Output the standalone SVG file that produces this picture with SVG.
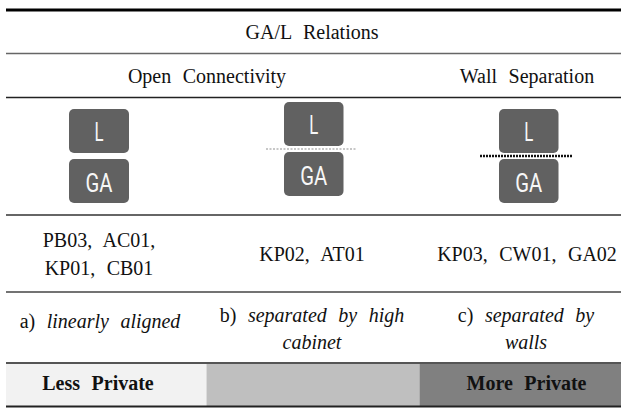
<svg xmlns="http://www.w3.org/2000/svg" width="621" height="408" viewBox="0 0 621 408">
<style>
.t{font-family:"Liberation Serif","Times New Roman",serif;font-size:20px;fill:#111;text-anchor:middle;word-spacing:6.5px}
.i{font-style:italic}
.b{font-weight:bold}
.box{fill:#616161}
.bt{font-family:Roboto,"DejaVu Sans",sans-serif;font-weight:400;font-size:25px;fill:#f7f7f7;text-anchor:middle}
.ln{stroke-width:1.6;fill:none}
</style>
<rect width="621" height="408" fill="#fff"/>
<g id="band">
<rect x="6" y="363" width="200.5" height="43" fill="#f2f2f2"/>
<rect x="206.5" y="363" width="213" height="43" fill="#bfbfbf"/>
<rect x="419.5" y="363" width="201.5" height="43" fill="#808080"/>
</g>
<g id="rules">
<line x1="6" y1="10" x2="621" y2="10" stroke="#000" stroke-width="3"/>
<line class="ln" x1="6" y1="53.5" x2="621" y2="53.5" stroke="#666"/>
<line class="ln" x1="6" y1="97.5" x2="621" y2="97.5" stroke="#222"/>
<line class="ln" x1="6" y1="215" x2="621" y2="215" stroke="#333"/>
<line class="ln" x1="6" y1="292" x2="621" y2="292" stroke="#444"/>
<line x1="6" y1="363" x2="621" y2="363" stroke="#555" stroke-width="2"/>
<line x1="6" y1="406.5" x2="621" y2="406.5" stroke="#222" stroke-width="2"/>
</g>
<g id="headers">
<text class="t" x="312" y="39">GA/L Relations</text>
<text class="t" x="207" y="83">Open Connectivity</text>
<text class="t" x="527" y="83">Wall Separation</text>
</g>
<g id="col1">
<g id="c1-L"><rect class="box" x="69" y="109" width="60" height="44" rx="5"/><text class="bt" x="99" y="141" textLength="9" lengthAdjust="spacingAndGlyphs">L</text></g>
<g id="c1-GA"><rect class="box" x="69" y="159" width="60" height="44" rx="5"/><text class="bt" x="99" y="191.5" textLength="27" lengthAdjust="spacingAndGlyphs">GA</text></g>
</g>
<g id="col2">
<g id="c2-L"><rect class="box" x="284" y="102" width="59.5" height="44" rx="5"/><text class="bt" x="313.7" y="134" textLength="9" lengthAdjust="spacingAndGlyphs">L</text></g>
<g id="c2-GA"><rect class="box" x="284" y="152" width="59.5" height="44" rx="5"/><text class="bt" x="313.7" y="184.5" textLength="27" lengthAdjust="spacingAndGlyphs">GA</text></g>
</g>
<g id="col3">
<g id="c3-L"><rect class="box" x="499" y="109" width="59.5" height="44" rx="5"/><text class="bt" x="528.7" y="141" textLength="9" lengthAdjust="spacingAndGlyphs">L</text></g>
<g id="c3-GA"><rect class="box" x="499" y="159" width="59.5" height="44" rx="5"/><text class="bt" x="528.7" y="191.5" textLength="27" lengthAdjust="spacingAndGlyphs">GA</text></g>
</g>
<g id="connectors">
<line x1="266" y1="149" x2="357" y2="149" stroke="#b5b5b5" stroke-width="1.6" stroke-dasharray="2 1.5"/>
<line x1="480" y1="156" x2="572" y2="156" stroke="#111" stroke-width="2.5" stroke-dasharray="2 1"/>
</g>
<g id="ids">
<text class="t" x="99" y="246.5">PB03, AC01,</text>
<text class="t" x="99" y="274.5">KP01, CB01</text>
<text class="t" x="312" y="261">KP02, AT01</text>
<text class="t" x="527" y="261">KP03, CW01, GA02</text>
</g>
<g id="captions">
<text class="t" x="100" y="328">a) <tspan class="i">linearly aligned</tspan></text>
<text class="t" x="312" y="322">b) <tspan class="i">separated by high</tspan></text>
<text class="t i" x="312" y="349">cabinet</text>
<text class="t" x="526" y="322">c) <tspan class="i">separated by</tspan></text>
<text class="t i" x="526" y="349">walls</text>
</g>
<g id="privacy">
<text class="t b" x="98" y="390">Less Private</text>
<text class="t b" x="526.5" y="390">More Private</text>
</g>
</svg>
